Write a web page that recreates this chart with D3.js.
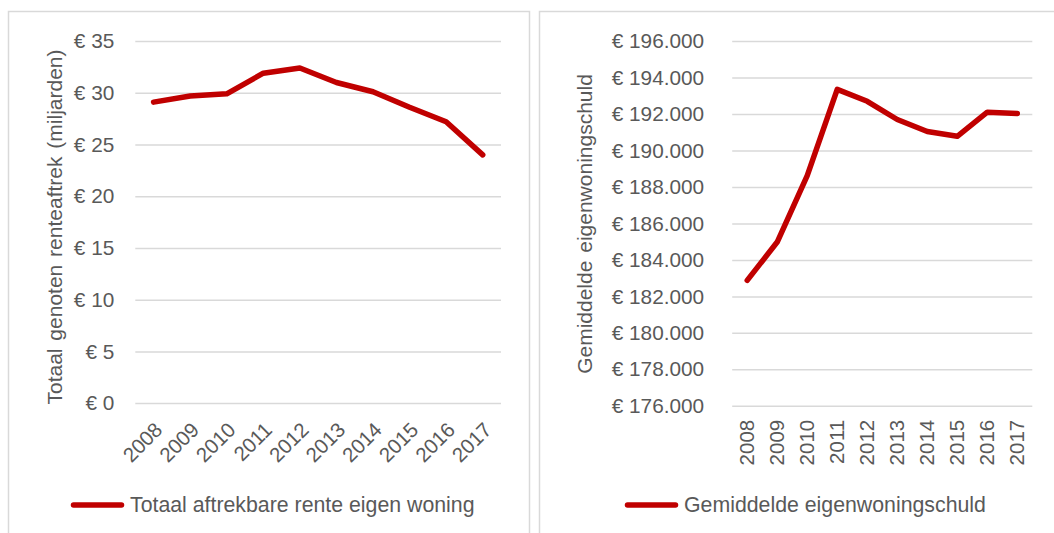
<!DOCTYPE html>
<html>
<head>
<meta charset="utf-8">
<script src="https://cdn.jsdelivr.net/npm/d3@7"></script>
<style>
    body { margin: 0; background: #fff; }
    svg { display: block; font-family: "Liberation Sans", Arial, sans-serif; }
    .tick text { fill: #595959; }
</style>
</head>
<body>
<svg id="chart" width="1054" height="533"></svg>
<script>
const years = ["2008", "2009", "2010", "2011", "2012", "2013", "2014", "2015", "2016", "2017"];
// miljarden euro
const renteaftrek = [29.1, 29.7, 29.9, 31.9, 32.4, 31.0, 30.1, 28.6, 27.2, 24.0];
const renteTicks = [0, 5, 10, 15, 20, 25, 30, 35];
const schuld = [182880, 184980, 188620, 193350, 192700, 191700, 191040, 190780, 192100, 192030];
const schuldTicks = [176000, 178000, 180000, 182000, 184000, 186000, 188000, 190000, 192000, 194000, 196000];

const red = "#c00000";
const grey = "#595959";
const gridColor = "#d9d9d9";

const svg = d3.select("#chart");

// panel borders
svg.append("rect").attr("x", 8.5).attr("y", 11.5).attr("width", 521).attr("height", 540)
    .attr("fill", "none").attr("stroke", gridColor).attr("stroke-width", 1.5);
svg.append("rect").attr("x", 539.5).attr("y", 11.5).attr("width", 540).attr("height", 540)
    .attr("fill", "none").attr("stroke", gridColor).attr("stroke-width", 1.5);

const thousands = d3.formatLocale({decimal: ",", thousands: ".", grouping: [3], currency: ["€", ""]}).format(",");

function drawPanel(opts) {
    let x = d3.scaleBand().domain(years).range([opts.left, opts.right]);
    let y = d3.scaleLinear().domain(opts.domain).range([opts.bottom, opts.top]);
    let g = svg.append("g");

    // y axis with gridlines
    let yAxis = g.append("g")
        .attr("transform", "translate(" + opts.left + ",0)")
        .call(d3.axisLeft(y)
            .tickValues(opts.ticks)
            .tickSize(-(opts.right - opts.left))
            .tickPadding(opts.yPad)
            .tickFormat(opts.fmt));
    yAxis.select(".domain").remove();
    yAxis.selectAll(".tick line").attr("stroke", gridColor).attr("stroke-width", 1.5);
    yAxis.selectAll(".tick text").attr("font-size", "20.8px").attr("font-family", "inherit");

    // x labels
    let xAxis = g.append("g")
        .attr("transform", "translate(0," + opts.bottom + ")")
        .call(d3.axisBottom(x).tickSize(0).tickPadding(0));
    xAxis.select(".domain").remove();
    xAxis.selectAll(".tick text")
        .attr("font-size", "20.5px")
        .attr("font-family", "inherit")
        .attr("text-anchor", "end")
        .attr("y", 0)
        .attr("dy", "0.35em")
        .attr("transform", opts.xLabelTransform);

    // line
    let line = d3.line()
        .x((d, i) => x(years[i]) + x.bandwidth() / 2)
        .y((d) => y(d));
    g.append("path")
        .datum(opts.values)
        .attr("d", line)
        .attr("fill", "none")
        .attr("stroke", red)
        .attr("stroke-width", 5.5)
        .attr("stroke-linejoin", "round")
        .attr("stroke-linecap", "round");

    // axis title
    g.append("text")
        .attr("transform", "translate(" + opts.titleX + "," + opts.titleY + ") rotate(-90)")
        .attr("text-anchor", "middle")
        .attr("dy", "0.35em")
        .attr("font-size", "21px")
        .attr("word-spacing", "2px")
        .attr("fill", grey)
        .text(opts.title);

    // legend
    g.append("line")
        .attr("x1", opts.legendX).attr("x2", opts.legendX + 48)
        .attr("y1", 505).attr("y2", 505)
        .attr("stroke", red).attr("stroke-width", 5.5).attr("stroke-linecap", "round");
    g.append("text")
        .attr("x", opts.legendX + 56.5)
        .attr("y", 505)
        .attr("dy", "0.35em")
        .attr("font-size", "21.3px")
        .attr("fill", grey)
        .text(opts.legend);
}

drawPanel({
    left: 135.3, right: 501, top: 41.1, bottom: 403.1,
    domain: [0, 35], ticks: renteTicks, values: renteaftrek,
    fmt: (d) => "€ " + d, yPad: 21,
    xLabelTransform: "translate(5,23) rotate(-45)",
    title: "Totaal genoten renteaftrek (miljarden)", titleX: 55, titleY: 227,
    legend: "Totaal aftrekbare rente eigen woning", legendX: 73.5
});

drawPanel({
    left: 732.2, right: 1032.3, top: 41.1, bottom: 405.8,
    domain: [176000, 196000], ticks: schuldTicks, values: schuld,
    fmt: (d) => "€ " + thousands(d), yPad: 28,
    xLabelTransform: "translate(0,14) rotate(-90)",
    title: "Gemiddelde eigenwoningschuld", titleX: 585, titleY: 224,
    legend: "Gemiddelde eigenwoningschuld", legendX: 627.5
});
</script>
</body>
</html>
